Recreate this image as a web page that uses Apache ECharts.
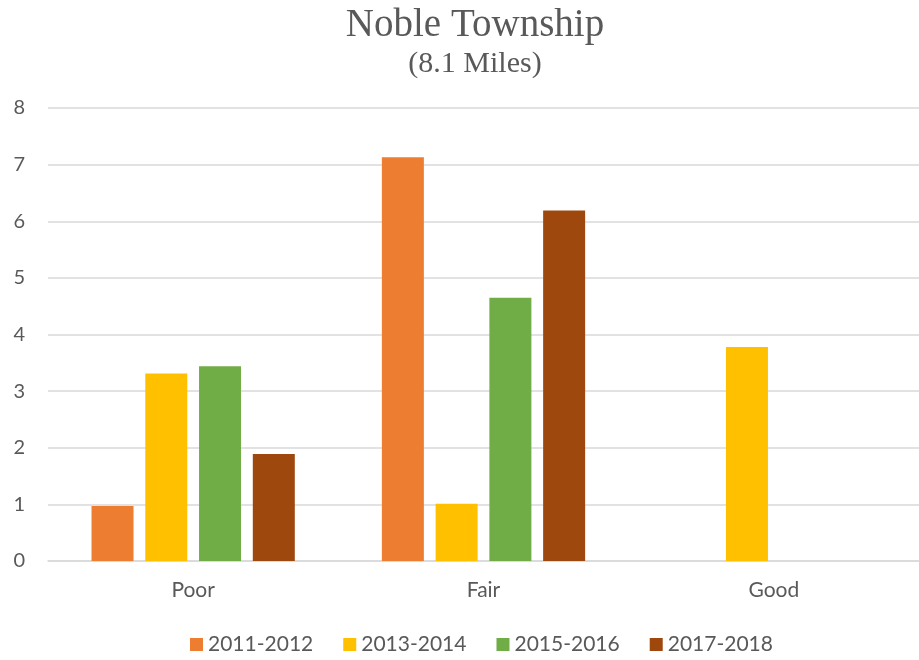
<!DOCTYPE html>
<html>
<head>
<meta charset="utf-8">
<script src="https://cdn.jsdelivr.net/npm/echarts@6/dist/echarts.min.js"></script>
<style>
  html, body { margin: 0; padding: 0; background: #fff; }
  #barChart { width: 919px; height: 660px; }
</style>
</head>
<body>
<div id="barChart"></div>
<script>
var categories = ["Poor", "Fair", "Good"];
var seriesNames = ["2011-2012", "2013-2014", "2015-2016", "2017-2018"];
var values2011 = [0.97, 7.13, null];
var values2013 = [3.31, 1.01, 3.78];
var values2015 = [3.44, 4.65, null];
var values2017 = [1.89, 6.19, null];
var yTicks = [0, 1, 2, 3, 4, 5, 6, 7, 8];

var colors = ["#ED7D31", "#FFC000", "#70AD47", "#9E480E"];
var allValues = [values2011, values2013, values2015, values2017];

var chart = echarts.init(document.getElementById("barChart"));

var series = [];
for (var i = 0; i < seriesNames.length; i++) {
  series.push({
    name: seriesNames[i],
    type: "bar",
    data: allValues[i],
    barWidth: 42,
    barGap: "28%",
    itemStyle: { color: colors[i] }
  });
}

chart.setOption({
  animation: false,
  color: colors,
  title: [
    {
      text: "Noble Township",
      left: 470,
      textAlign: "center",
      top: 1,
      textStyle: { fontFamily: "Liberation Serif", fontSize: 39, fontWeight: "normal", color: "#595959" }
    },
    {
      text: "(8.1 Miles)",
      left: 470,
      textAlign: "center",
      top: 44,
      textStyle: { fontFamily: "Liberation Serif", fontSize: 30, fontWeight: "normal", color: "#595959" }
    }
  ],
  legend: {
    data: seriesNames,
    top: 629,
    left: 185,
    icon: "rect",
    itemWidth: 13,
    itemHeight: 13,
    itemGap: 30,
    textStyle: { fontFamily: "Lato", fontSize: 21, color: "#595959" }
  },
  grid: {
    left: 48,
    top: 108,
    width: 878,
    height: 453,
    containLabel: false
  },
  xAxis: {
    type: "category",
    data: categories,
    axisTick: { show: false },
    axisLine: { show: true, lineStyle: { color: "#d9d9d9", width: 1.5 } },
    axisLabel: { fontFamily: "Lato", fontSize: 21, color: "#595959", margin: 19 }
  },
  yAxis: {
    type: "value",
    min: yTicks[0],
    max: yTicks[yTicks.length - 1],
    interval: 1,
    axisLine: { show: false },
    axisTick: { show: false },
    splitLine: { lineStyle: { color: "#d9d9d9", width: 1.5 } },
    axisLabel: { fontFamily: "Lato", fontSize: 20, color: "#595959", margin: 23 }
  },
  series: series
});
</script>
</body>
</html>
